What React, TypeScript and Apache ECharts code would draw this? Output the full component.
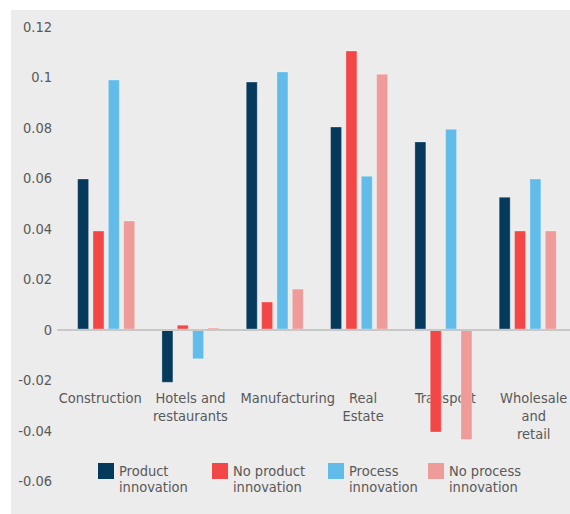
import React, { useEffect, useRef } from "react";
import * as echarts from "echarts";

const categories = [
  "Construction",
  "Hotels and restaurants",
  "Manufacturing",
  "Real Estate",
  "Transport",
  "Wholesale and retail",
];
const categoryLabels = [
  "Construction",
  "Hotels and\nrestaurants",
  "Manufacturing",
  "Real\nEstate",
  "Transport",
  "Wholesale\nand\nretail",
];
const seriesNames = [
  "Product innovation",
  "No product innovation",
  "Process innovation",
  "No process innovation",
];
const productInnovation = [0.0598, -0.0211, 0.0982, 0.0804, 0.0745, 0.0526];
const noProductInnovation = [0.0392, 0.0019, 0.0111, 0.1105, -0.0408, 0.0392];
const processInnovation = [0.099, -0.0118, 0.1022, 0.0609, 0.0795, 0.0598];
const noProcessInnovation = [0.0432, 0.0008, 0.0162, 0.1013, -0.0438, 0.0392];
const yMin = -0.06;
const yMax = 0.12;
const yInterval = 0.02;

const colors = ["#063a5d", "#f24746", "#62bce9", "#ee9b99"];
const FONT = "'DejaVu Sans Condensed', 'Liberation Sans Narrow', sans-serif";
const FS = 14.5;
const TEXT = "#595959";
const legendLefts = [98, 212, 328, 428];
const labelShifts = [-6, 0, 13, 4, 2, 6];

export default function App() {
  const ref = useRef<HTMLDivElement>(null);
  useEffect(() => {
    if (!ref.current) return;
    const chart = echarts.init(ref.current, null, { renderer: "svg" });
    const values = [productInnovation, noProductInnovation, processInnovation, noProcessInnovation];
    const gridTop = 16.5;
    const gridBottom = 33;
    const rich: Record<string, any> = {};
    labelShifts.forEach((s, i) => {
      rich["c" + i] = {
        color: TEXT,
        fontFamily: FONT,
        fontSize: FS,
        lineHeight: 18,
        padding: s >= 0 ? [0, 0, 0, 2 * s] : [0, -2 * s, 0, 0],
      };
    });
    chart.setOption({
      animation: false,
      backgroundColor: "#ececec",
      grid: [
        { left: 53, top: gridTop, bottom: gridBottom, width: 510 },
        { left: 47, top: gridTop, bottom: gridBottom, right: 0 },
      ],
      xAxis: [
        {
          type: "category",
          gridIndex: 0,
          data: categories,
          position: "bottom",
          axisLine: { show: false, onZero: false },
          axisTick: { show: false },
          axisLabel: {
            interval: 0,
            margin: -92,
            color: TEXT,
            fontFamily: FONT,
            fontSize: FS,
            lineHeight: 18,
            rich,
            formatter: (_v: string, i: number) =>
              categoryLabels[i]
                .split("\n")
                .map((line) => `{c${i}|${line}}`)
                .join("\n"),
          },
        },
        {
          type: "category",
          gridIndex: 1,
          data: categories,
          z: 5,
          axisLine: { show: true, onZero: true, lineStyle: { color: "#c8c8c8", width: 2 } },
          axisTick: { show: false },
          axisLabel: { show: false },
        },
      ],
      yAxis: [
        {
          type: "value",
          gridIndex: 0,
          min: yMin,
          max: yMax,
          interval: yInterval,
          axisLine: { show: false },
          axisTick: { show: false },
          splitLine: { show: false },
          axisLabel: {
            margin: 12,
            color: TEXT,
            fontFamily: FONT,
            fontSize: FS,
            formatter: (v: number) => String(Math.round(v * 100) / 100),
          },
        },
        {
          type: "value",
          gridIndex: 1,
          min: yMin,
          max: yMax,
          interval: yInterval,
          show: false,
        },
      ],
      legend: seriesNames.map((n, i) => ({
        data: [n],
        left: legendLefts[i] - 11,
        top: 453,
        padding: 0,
        itemWidth: 16,
        itemHeight: 32,
        icon: "path://M0,0h16v16h-16z M0,32h0.01v0.01h-0.01z",
        selectedMode: false,
        itemStyle: { borderWidth: 0 },
        formatter: (name: string) => name.replace(" innovation", "\ninnovation"),
        textStyle: { color: TEXT, fontFamily: FONT, fontSize: FS, lineHeight: 16 },
      })),
      series: seriesNames.map((n, i) => ({
        name: n,
        type: "bar",
        xAxisIndex: 0,
        yAxisIndex: 0,
        data: values[i],
        barWidth: 12,
        barGap: "28%",
        itemStyle: { color: colors[i], borderColor: "rgba(255,255,255,0.3)", borderWidth: 1 },
      })),
    });
    return () => chart.dispose();
  }, []);
  return (
    <div style={{ position: "fixed", left: 0, top: 0, width: 570, height: 514, background: "#fff" }}>
      <div ref={ref} style={{ position: "absolute", left: 11, top: 10, width: 559, height: 504 }} />
    </div>
  );
}
